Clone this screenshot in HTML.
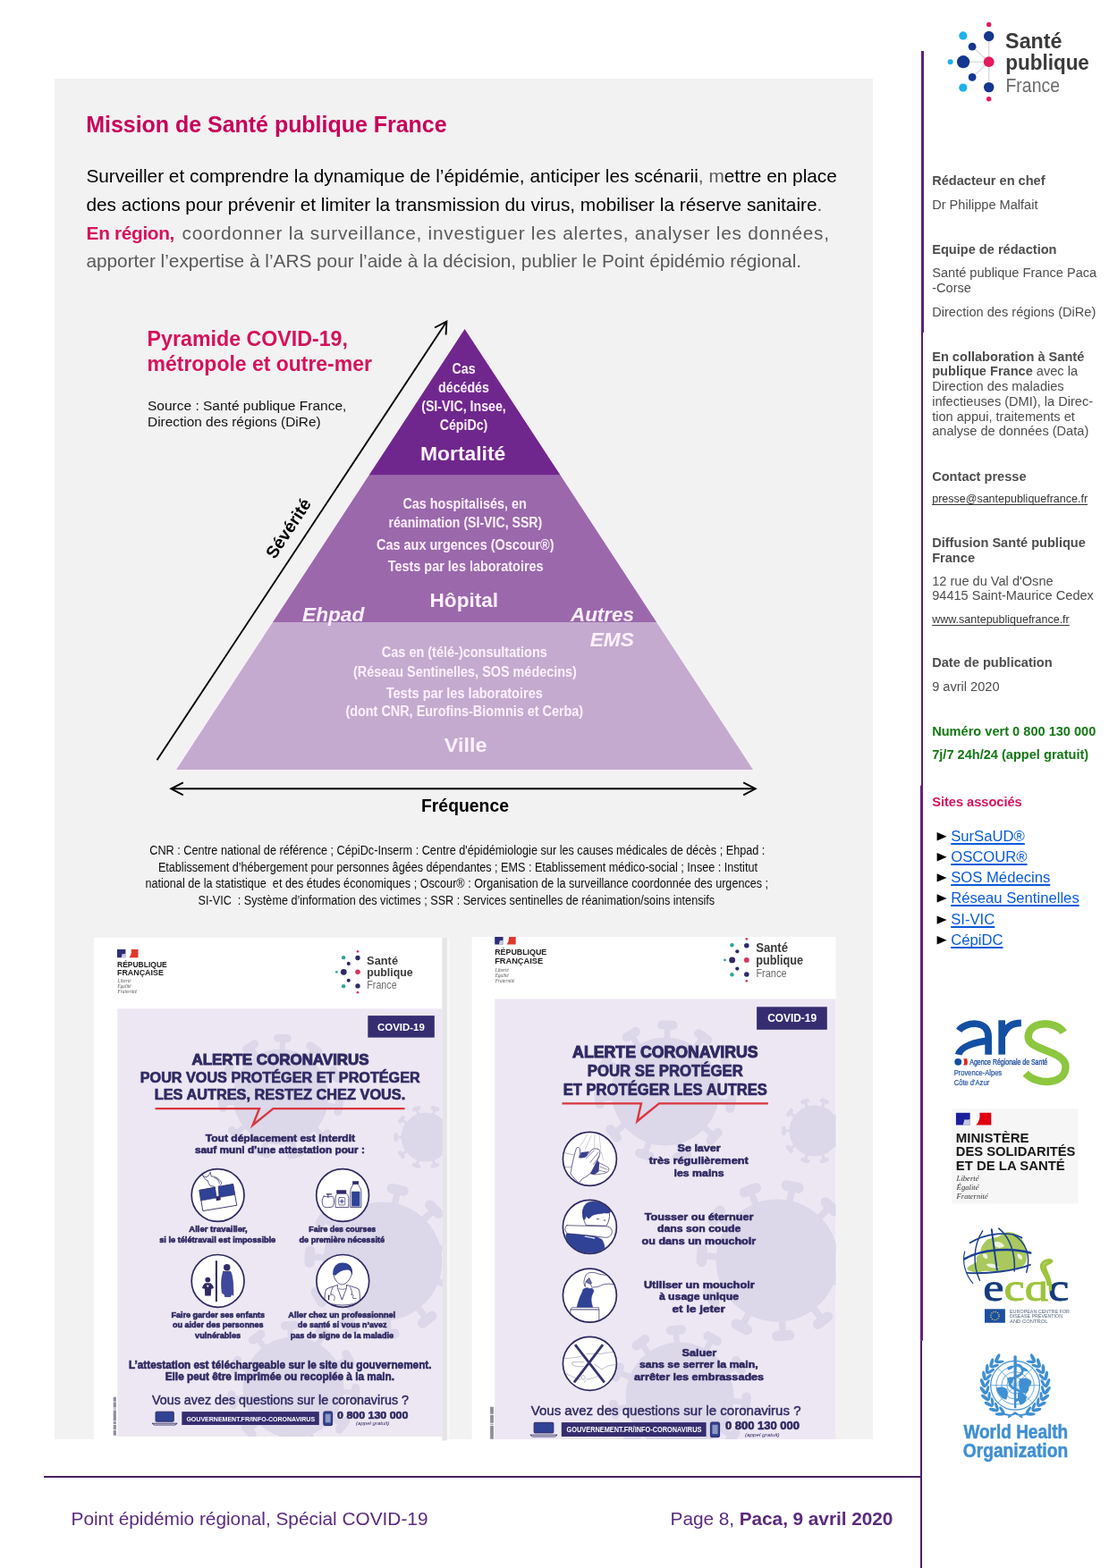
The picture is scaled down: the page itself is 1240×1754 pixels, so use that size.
<!DOCTYPE html>
<html lang="fr">
<head>
<meta charset="utf-8">
<title>Point épidémio régional, Spécial COVID-19 – Paca, 9 avril 2020</title>
<style>
html,body{margin:0;padding:0;background:#fff;}
body{width:1240px;height:1754px;position:relative;overflow:hidden;font-family:"Liberation Sans",sans-serif;}
#page{position:absolute;left:0;top:0;width:1240px;height:1754px;overflow:hidden;will-change:transform;}
#g{position:absolute;left:0;top:0;width:1240px;height:1754px;display:block;}
.t{position:absolute;white-space:pre;line-height:1;margin:0;padding:0;}
.t u{text-decoration-thickness:1px;text-underline-offset:1.5px;}
svg text{font-family:"Liberation Sans",sans-serif;white-space:pre;}
.t u{text-decoration-skip-ink:none;}
svg text.sf{font-family:"Liberation Serif",serif;}
</style>
</head>
<body>
<div id="page">
<svg id="g" width="1240" height="1754" viewBox="0 0 1240 1754">
<rect x="61" y="88" width="915" height="1522" fill="#f2f2f2"/>
<rect x="1030" y="57" width="3" height="315" fill="#5d2380"/>
<rect x="1030" y="372" width="2" height="507" fill="#611a72"/>
<rect x="1029" y="878.7" width="3" height="621" fill="#62227e"/>
<rect x="1029" y="1499.5" width="2" height="254.5" fill="#4a2263"/>
<rect x="49" y="1651" width="981" height="2" fill="#4a2263"/>

<g id="pyramide">
<polygon points="519.6,366.2 844.2,862 194.8,862" fill="#fbf1ff"/>
<polygon points="519.6,368 626.72,531.8 412.42,531.8" fill="#70278d"/>
<polygon points="412.42,531.8 626.72,531.8 734.1,696 304.97,696" fill="#9b68ac"/>
<polygon points="304.97,696 734.1,696 842,861 197,861" fill="#c4aacf"/>
<g fill="none" stroke="#000" stroke-width="1.9" stroke-linecap="butt" stroke-linejoin="miter">
<path d="M175.5 850.3 L499 360.3"/>
<path d="M486 366.5 L499.4 359.6 L498.6 374.5"/>
<path d="M191.5 882.3 H844.5"/>
<path d="M204.8 875.3 L191.3 882.3 L204.8 889.3"/>
<path d="M831.2 875.3 L844.7 882.3 L831.2 889.3"/>
</g>
<text font-size="23" font-weight="bold" fill="#d6115c" transform="translate(164.6 387) scale(1.0089 1)">Pyramide COVID-19,</text>
<text font-size="23" font-weight="bold" fill="#d6115c" transform="translate(164.6 415) scale(0.9985 1)">métropole et outre-mer</text>
<text font-size="15.5" fill="#111" x="165" y="458.7">Source : Santé publique France,</text>
<text font-size="15.5" fill="#111" transform="translate(165 477.2) scale(0.9950 1)">Direction des régions (DiRe)</text>
<text font-size="19.4" font-weight="bold" transform="translate(471 908.2) scale(0.9989 1)">Fréquence</text>
<text font-size="19.4" font-weight="bold" transform="translate(307.2 626.3) rotate(-56.6)">Sévérité</text>
<text font-size="17" font-weight="bold" fill="#fdf1ff" text-anchor="middle" transform="translate(518.5 417.8) scale(0.8350 1)">Cas</text>
<text font-size="17" font-weight="bold" fill="#fdf1ff" text-anchor="middle" transform="translate(518.5 438.8) scale(0.8350 1)">décédés</text>
<text font-size="17" font-weight="bold" fill="#fdf1ff" text-anchor="middle" transform="translate(518.5 459.8) scale(0.8350 1)">(SI-VIC, Insee,</text>
<text font-size="17" font-weight="bold" fill="#fdf1ff" text-anchor="middle" transform="translate(518.5 480.7) scale(0.8350 1)">CépiDc)</text>
<text font-size="22.7" font-weight="bold" fill="#fdf1ff" transform="translate(470 515.3) scale(1.0075 1)">Mortalité</text>
<text font-size="17" font-weight="bold" fill="#fdf1ff" transform="translate(450.4 569.4) scale(0.8467 1)">Cas hospitalisés, en</text>
<text font-size="17" font-weight="bold" fill="#fdf1ff" transform="translate(434.5 590.3) scale(0.8310 1)">réanimation (SI-VIC, SSR)</text>
<text font-size="17" font-weight="bold" fill="#fdf1ff" transform="translate(421 614.6) scale(0.8510 1)">Cas aux urgences (Oscour®)</text>
<text font-size="17" font-weight="bold" fill="#fdf1ff" transform="translate(433.7 638.5) scale(0.8500 1)">Tests par les laboratoires</text>
<text font-size="22.7" font-weight="bold" fill="#fdf1ff" transform="translate(480.6 678.8) scale(0.9932 1)">Hôpital</text>
<text font-size="22.7" font-weight="bold" font-style="italic" fill="#fdf1ff" x="338" y="695.2">Ehpad</text>
<text font-size="22.7" font-weight="bold" font-style="italic" fill="#fdf1ff" transform="translate(638 695.2) scale(0.9875 1)">Autres</text>
<text font-size="22.7" font-weight="bold" font-style="italic" fill="#fdf1ff" transform="translate(659.7 722.5) scale(0.9981 1)">EMS</text>
<text font-size="17" font-weight="bold" fill="#fdf1ff" transform="translate(426.8 735.4) scale(0.8524 1)">Cas en (télé-)consultations</text>
<text font-size="17" font-weight="bold" fill="#fdf1ff" transform="translate(395 756.8) scale(0.8481 1)">(Réseau Sentinelles, SOS médecins)</text>
<text font-size="17" font-weight="bold" fill="#fdf1ff" transform="translate(431.7 781.4) scale(0.8563 1)">Tests par les laboratoires</text>
<text font-size="17" font-weight="bold" fill="#fdf1ff" transform="translate(386.4 801) scale(0.8483 1)">(dont CNR, Eurofins-Biomnis et Cerba)</text>
<text font-size="22.7" font-weight="bold" fill="#fdf1ff" transform="translate(496.7 841.4) scale(1.0329 1)">Ville</text>
<text font-size="15.3" fill="#0d0d0d" transform="translate(167.3 956.3) scale(0.8290 1)">CNR : Centre national de référence ; CépiDc-Inserm : Centre d'épidémiologie sur les causes médicales de décès ; Ehpad :</text>
<text font-size="15.3" fill="#0d0d0d" transform="translate(176.9 974.8) scale(0.8259 1)">Etablissement d’hébergement pour personnes âgées dépendantes ; EMS : Etablissement médico-social ; Insee : Institut</text>
<text font-size="15.3" fill="#0d0d0d" transform="translate(162.5 993.1) scale(0.8252 1)">national de la statistique  et des études économiques ; Oscour® : Organisation de la surveillance coordonnée des urgences ;</text>
<text font-size="15.3" fill="#0d0d0d" transform="translate(221.6 1011.5) scale(0.8263 1)">SI-VIC  : Système d’information des victimes ; SSR : Services sentinelles de réanimation/soins intensifs</text>
</g>
<g id="logo-spf">
<g transform="translate(1105.7 69.2) scale(1.0000)">
<g stroke="#d9d9d9" stroke-width="1.3" fill="none"><path d="M0 0V-28.7M0 0V28.4M0 0H-28.6M0 0L-18.6 -17M0 0L-18.6 17.2"/></g>
<circle cx="0" cy="-41.7" r="2.7" fill="#e6195e"/>
<circle cx="0" cy="-28.7" r="5.7" fill="#14378f"/>
<circle cx="-28.9" cy="-29.3" r="4.6" fill="#1cb1ea"/>
<circle cx="-18.6" cy="-17" r="4.4" fill="#14378f"/>
<circle cx="-28.6" cy="0" r="7.1" fill="#14378f"/>
<circle cx="-43.1" cy="0" r="3" fill="#1cb1ea"/>
<circle cx="0" cy="0" r="5.9" fill="#e6195e"/>
<circle cx="-18.6" cy="17.2" r="4.4" fill="#14378f"/>
<circle cx="-28.9" cy="28.9" r="4.6" fill="#1cb1ea"/>
<circle cx="0" cy="28.4" r="5.7" fill="#14378f"/>
<circle cx="0" cy="41.5" r="2.7" fill="#e6195e"/>
<text font-size="24.6" font-weight="bold" fill="#3a3a3a" transform="translate(18.4 -15.1) scale(0.9479 1)">Santé</text>
<text font-size="24.6" font-weight="bold" fill="#3a3a3a" transform="translate(18.6 8.8) scale(0.9133 1)">publique</text>
<text font-size="22.5" fill="#6b6b6b" transform="translate(18.8 34.2) scale(0.8639 1)">France</text>
</g>
</g>
<g id="ars">
<g transform="translate(1050 1120) scale(0.13710)" fill="none" stroke-linecap="butt">
<g stroke="#134fa2" stroke-width="56">
<path d="M162 240 C215 165 404 150 402 290 V435"/>
<path d="M402 322 C300 332 172 368 158 436"/>
<path d="M512 155 V435"/>
<path d="M520 280 C545 205 600 178 670 178"/>
</g>
<path d="M1015 255 C960 160 730 152 727 292 C725 402 1030 400 1032 532 C1035 682 800 692 705 588" stroke="#8dc63f" stroke-width="62"/>
<circle cx="155" cy="495" r="29" fill="#134fa2" stroke="none"/>
<path d="M198 468 H228 Q238 495 228 522 H198 Q212 495 198 468Z" fill="#e1251b" stroke="none"/>
</g>
<text stroke="#1a4a9c" stroke-width=".35" font-size="9.8" fill="#1a4a9c" transform="translate(1084.3 1191.3) scale(0.7128 1)">Agence Régionale de Santé</text>
<text stroke="#1a4a9c" stroke-width=".2" font-size="9.8" fill="#1a4a9c" transform="translate(1066.7 1203.4) scale(0.7733 1)">Provence-Alpes</text>
<text stroke="#1a4a9c" stroke-width=".2" font-size="9.8" fill="#1a4a9c" transform="translate(1066.7 1214.3) scale(0.7761 1)">Côte d'Azur</text>
</g>
<g id="ministere">
<rect x="1064.4" y="1240.3" width="141.2" height="106.2" fill="#f6f6f6"/>
<rect x="1068.9" y="1244.8" width="39.4" height="13.7" fill="#fff"/>
<rect x="1068.9" y="1244.8" width="15.76" height="13.7" fill="#1b1f9b"/>
<path d="M1084.66 1244.8 q2.36 6.17 -5.52 10.69 l1.97 3.01 h3.55z" fill="#fff" opacity=".0"/>
<path d="M1078.36 1252.34 q3.94 0.69 6.3 -0.69 v6.85 h-7.88z" fill="#fff" opacity=".75"/>
<path d="M1095.3 1244.8 H1108.3 V1258.5 H1091.36 Q1096.48 1253.02 1095.3 1244.8Z" fill="#e1000f"/>
<text font-size="14" font-weight="bold" fill="#161616" transform="translate(1068.8 1277.7) scale(1.0731 1)">MINISTÈRE</text>
<text font-size="14" font-weight="bold" fill="#161616" transform="translate(1068.8 1293.3) scale(1.0553 1)">DES SOLIDARITÉS</text>
<text font-size="14" font-weight="bold" fill="#161616" transform="translate(1068.8 1309.1) scale(1.0655 1)">ET DE LA SANTÉ</text>
<text font-size="8.6" class="sf" font-style="italic" fill="#333" transform="translate(1069.6 1321.2) scale(1.0063 1)">Liberté</text>
<text font-size="8.6" class="sf" font-style="italic" fill="#333" transform="translate(1069.6 1331) scale(1.0065 1)">Égalité</text>
<text font-size="8.6" class="sf" font-style="italic" fill="#333" transform="translate(1069.6 1340.8) scale(0.9958 1)">Fraternité</text>
</g>
<g id="ecdc">
<g transform="translate(1060 1360) scale(0.12903)">
<g fill="#a9c95e">
<path d="M330 215 C360 185 420 200 450 175 C490 125 580 135 620 180 C660 215 690 290 680 360 C690 400 660 440 610 450 C570 480 520 470 470 480 C420 495 360 470 300 482 C250 500 190 492 165 462 C168 432 215 425 250 395 C235 360 260 340 290 330 C270 290 300 250 330 215Z"/>
</g>
<g fill="#fff" opacity=".8"><path d="M395 230 C430 215 475 235 490 262 C455 290 405 280 395 230Z"/><path d="M300 330 C330 320 350 340 340 370 C320 380 300 360 300 330Z"/><path d="M330 420 C370 405 420 425 445 448 C400 458 350 452 330 420Z"/><path d="M600 330 C630 330 650 350 640 380 C615 380 600 360 600 330Z"/></g>
<g fill="none" stroke="#1a3f8f" stroke-linecap="round">
<path d="M190 235 C330 150 520 130 640 190" stroke-width="13"/>
<path d="M140 375 C300 285 560 275 715 322" stroke-width="19"/>
<path d="M165 495 C340 505 570 480 712 425" stroke-width="15"/>
<path d="M300 130 C215 260 215 430 275 560" stroke-width="11"/>
<path d="M378 118 C395 250 410 370 425 470" stroke-width="15"/>
<path d="M440 110 C540 190 585 330 575 480" stroke-width="12"/>
<path d="M560 160 C680 230 720 350 680 490" stroke-width="11"/>
<path d="M145 310 C120 400 150 510 215 585" stroke-width="9"/>
</g>
</g>
<text class="sf" font-size="45" transform="translate(1099.3 1455) scale(1.165 1)" stroke-width=".8"><tspan fill="#153b7c" stroke="#153b7c">e</tspan><tspan fill="#9dc43c" stroke="#9dc43c">cd</tspan><tspan fill="#153b7c" stroke="#153b7c">c</tspan></text>
<rect x="1156" y="1416" width="19" height="17.4" fill="#fff"/>
<path d="M1171.9 1436.8 C1172 1427 1162.6 1421.9 1164.8 1414.8 C1166.8 1409.7 1174.8 1408.8 1175.7 1410.9 C1173.5 1414.2 1168.1 1413.2 1168.1 1417 C1168.6 1423.5 1176.1 1429.7 1174.3 1442.6" fill="none" stroke="#9dc43c" stroke-width="3.35" stroke-linecap="round"/>
<rect x="1101" y="1464.3" width="22.9" height="15.4" fill="#1b4fa0"/>
<circle cx="1112.4" cy="1472" r="4.6" fill="none" stroke="#ffe25a" stroke-width="1.3" stroke-dasharray="1.1 1.3" opacity=".9"/>
<text font-size="5.9" fill="#54657f" transform="translate(1129 1468.6) scale(0.9179 1)">EUROPEAN CENTRE FOR</text>
<text font-size="5.9" fill="#54657f" transform="translate(1129 1474) scale(0.8998 1)">DISEASE PREVENTION</text>
<text font-size="5.9" fill="#54657f" transform="translate(1129 1479.5) scale(0.9897 1)">AND CONTROL</text>
</g>
<g id="who">
<g fill="none" stroke="#3f8fd2">
<circle cx="1135.1" cy="1549.7" r="27.4" stroke-width="1.2"/>
<circle cx="1135.1" cy="1549.7" r="21.2" stroke-width="0.8"/>
<circle cx="1135.1" cy="1549.7" r="15.2" stroke-width="0.8"/>
<circle cx="1135.1" cy="1549.7" r="9.2" stroke-width="0.8"/>
<path d="M1107.7 1549.7H1162.5M1115.7 1530.3L1154.5 1569.1M1154.5 1530.3L1115.7 1569.1" stroke-width=".7"/>
</g>
<g fill="#3f8fd2">
<path d="M1114.1 1552.7 q6 -3 12 1 q2 6 -1 12 q-5 -1 -8 -6 q-3 -3 -3 -7z"/>
<path d="M1140.1 1542.7 q8 -3 13 2 q1 4 -3 7 q1 4 -3 7 q-5 0 -7 -5 q-2 -6 0 -11z"/>
<path d="M1138.1 1557.7 q7 0 10 5 q-1 7 -7 9 q-4 -6 -3 -14z"/>
<path d="M1126.1 1541.7 q4 -3 7 0 q0 5 -3 7 q-4 -2 -4 -7z"/>
<path d="M1126.1 1529.7 q5 -3 8 -2 q-2 4 -7 5z M1142.1 1528.7 q5 1 8 5 q-5 1 -9 -2z"/>
</g>
<path d="M1133.4 1517.2 q1.7 -2 3.4 0 l-.5 58 h-2.4z" fill="#3f8fd2"/>
<path d="M1136.1 1526.7 c9 1 10 10 1 13 c-11 4 -11 11 0 15 c8 3 7 9 -1 12" fill="none" stroke="#3f8fd2" stroke-width="2.8" stroke-linecap="round"/>
<g fill="#3f8fd2">
<ellipse cx="1118.01" cy="1581.84" rx="1.9" ry="5.4" transform="rotate(-90 1118.01 1581.84)"/>
<ellipse cx="1120.36" cy="1577.42" rx="1.6" ry="4.8" transform="rotate(-36 1120.36 1577.42)"/>
<ellipse cx="1111.12" cy="1577.09" rx="1.9" ry="5.4" transform="rotate(-76.8 1111.12 1577.09)"/>
<ellipse cx="1114.42" cy="1573.33" rx="1.6" ry="4.8" transform="rotate(-22.8 1114.42 1573.33)"/>
<ellipse cx="1105.5" cy="1570.89" rx="1.9" ry="5.4" transform="rotate(-63.6 1105.5 1570.89)"/>
<ellipse cx="1109.57" cy="1567.98" rx="1.6" ry="4.8" transform="rotate(-9.6 1109.57 1567.98)"/>
<ellipse cx="1101.45" cy="1563.57" rx="1.9" ry="5.4" transform="rotate(-50.4 1101.45 1563.57)"/>
<ellipse cx="1106.07" cy="1561.67" rx="1.6" ry="4.8" transform="rotate(3.6 1106.07 1561.67)"/>
<ellipse cx="1099.17" cy="1555.52" rx="1.9" ry="5.4" transform="rotate(-37.2 1099.17 1555.52)"/>
<ellipse cx="1104.1" cy="1554.72" rx="1.6" ry="4.8" transform="rotate(16.8 1104.1 1554.72)"/>
<ellipse cx="1098.79" cy="1547.16" rx="1.9" ry="5.4" transform="rotate(-24 1098.79 1547.16)"/>
<ellipse cx="1103.78" cy="1547.51" rx="1.6" ry="4.8" transform="rotate(30 1103.78 1547.51)"/>
<ellipse cx="1100.33" cy="1538.94" rx="1.9" ry="5.4" transform="rotate(-10.8 1100.33 1538.94)"/>
<ellipse cx="1105.1" cy="1540.41" rx="1.6" ry="4.8" transform="rotate(43.2 1105.1 1540.41)"/>
<ellipse cx="1103.7" cy="1531.28" rx="1.9" ry="5.4" transform="rotate(2.4 1103.7 1531.28)"/>
<ellipse cx="1108.02" cy="1533.81" rx="1.6" ry="4.8" transform="rotate(56.4 1108.02 1533.81)"/>
<ellipse cx="1108.74" cy="1524.6" rx="1.9" ry="5.4" transform="rotate(15.6 1108.74 1524.6)"/>
<ellipse cx="1112.36" cy="1528.05" rx="1.6" ry="4.8" transform="rotate(69.6 1112.36 1528.05)"/>
<ellipse cx="1115.17" cy="1519.24" rx="1.9" ry="5.4" transform="rotate(28.8 1115.17 1519.24)"/>
<ellipse cx="1117.91" cy="1523.43" rx="1.6" ry="4.8" transform="rotate(82.8 1117.91 1523.43)"/>
<ellipse cx="1152.19" cy="1581.84" rx="1.9" ry="5.4" transform="rotate(90 1152.19 1581.84)"/>
<ellipse cx="1149.84" cy="1577.42" rx="1.6" ry="4.8" transform="rotate(36 1149.84 1577.42)"/>
<ellipse cx="1159.08" cy="1577.09" rx="1.9" ry="5.4" transform="rotate(76.8 1159.08 1577.09)"/>
<ellipse cx="1155.78" cy="1573.33" rx="1.6" ry="4.8" transform="rotate(22.8 1155.78 1573.33)"/>
<ellipse cx="1164.7" cy="1570.89" rx="1.9" ry="5.4" transform="rotate(63.6 1164.7 1570.89)"/>
<ellipse cx="1160.63" cy="1567.98" rx="1.6" ry="4.8" transform="rotate(9.6 1160.63 1567.98)"/>
<ellipse cx="1168.75" cy="1563.57" rx="1.9" ry="5.4" transform="rotate(50.4 1168.75 1563.57)"/>
<ellipse cx="1164.13" cy="1561.67" rx="1.6" ry="4.8" transform="rotate(-3.6 1164.13 1561.67)"/>
<ellipse cx="1171.03" cy="1555.52" rx="1.9" ry="5.4" transform="rotate(37.2 1171.03 1555.52)"/>
<ellipse cx="1166.1" cy="1554.72" rx="1.6" ry="4.8" transform="rotate(-16.8 1166.1 1554.72)"/>
<ellipse cx="1171.41" cy="1547.16" rx="1.9" ry="5.4" transform="rotate(24 1171.41 1547.16)"/>
<ellipse cx="1166.42" cy="1547.51" rx="1.6" ry="4.8" transform="rotate(-30 1166.42 1547.51)"/>
<ellipse cx="1169.87" cy="1538.94" rx="1.9" ry="5.4" transform="rotate(10.8 1169.87 1538.94)"/>
<ellipse cx="1165.1" cy="1540.41" rx="1.6" ry="4.8" transform="rotate(-43.2 1165.1 1540.41)"/>
<ellipse cx="1166.5" cy="1531.28" rx="1.9" ry="5.4" transform="rotate(-2.4 1166.5 1531.28)"/>
<ellipse cx="1162.18" cy="1533.81" rx="1.6" ry="4.8" transform="rotate(-56.4 1162.18 1533.81)"/>
<ellipse cx="1161.46" cy="1524.6" rx="1.9" ry="5.4" transform="rotate(-15.6 1161.46 1524.6)"/>
<ellipse cx="1157.84" cy="1528.05" rx="1.6" ry="4.8" transform="rotate(-69.6 1157.84 1528.05)"/>
<ellipse cx="1155.03" cy="1519.24" rx="1.9" ry="5.4" transform="rotate(-28.8 1155.03 1519.24)"/>
<ellipse cx="1152.29" cy="1523.43" rx="1.6" ry="4.8" transform="rotate(-82.8 1152.29 1523.43)"/>
</g>
<path d="M1119.1 1580.2 q9 5 16 1 q7 4 16 -1 M1127.1 1585.7 l8 -5.5 l8 5.5" fill="none" stroke="#3f8fd2" stroke-width="2"/>
<text stroke="#3f8fd2" stroke-width=".5" font-size="22.2" font-weight="bold" fill="#3f8fd2" transform="translate(1077.4 1609) scale(0.8557 1)">World Health</text>
<text stroke="#3f8fd2" stroke-width=".5" font-size="22.2" font-weight="bold" fill="#3f8fd2" transform="translate(1076.8 1630.3) scale(0.8653 1)">Organization</text>
</g>
<g id="puces" fill="#000">
<path d="M1047.6 931 L1058.6 935.7 L1047.6 940.4Z"/>
<path d="M1047.6 954 L1058.6 958.7 L1047.6 963.4Z"/>
<path d="M1047.6 977.2 L1058.6 981.9 L1047.6 986.6Z"/>
<path d="M1047.6 1000.2 L1058.6 1004.9 L1047.6 1009.6Z"/>
<path d="M1047.6 1024.4 L1058.6 1029.1 L1047.6 1033.8Z"/>
<path d="M1047.6 1047 L1058.6 1051.7 L1047.6 1056.4Z"/>
</g>
<g id="affiche1">
<rect x="499.5" y="1049" width="2.8" height="562" fill="#f8f8f8"/>
<rect x="494" y="1049" width="5.8" height="562.4" fill="#e5e5e6"/>
<rect x="105" y="1049" width="389.3" height="562" fill="#fff"/>
<rect x="131.3" y="1128.3" width="363.4" height="478.7" fill="#ede7f4"/>
<clipPath id="cp1"><rect x="131.3" y="1128.3" width="363.4" height="478.7"/></clipPath>
<g clip-path="url(#cp1)" fill="#dcd7e9" stroke="#dcd7e9" stroke-linecap="round">
<circle cx="314" cy="1227" r="53"/><path d="M360.98 1235.28L378.72 1238.41" stroke-width="5.83"/><path d="M379.64 1233.19L377.8 1243.63" stroke-width="9.01"/><path d="M349.04 1259.36L362.28 1271.59" stroke-width="5.83"/><path d="M365.87 1267.7L358.68 1275.48" stroke-width="9.01"/><path d="M325.98 1273.17L330.51 1290.61" stroke-width="5.83"/><path d="M335.64 1289.28L325.38 1291.94" stroke-width="9.01"/><path d="M299.12 1272.32L293.49 1289.44" stroke-width="5.83"/><path d="M298.53 1291.09L288.46 1287.78" stroke-width="9.01"/><path d="M276.98 1257.08L262.99 1268.44" stroke-width="5.83"/><path d="M266.33 1272.55L259.65 1264.33" stroke-width="9.01"/><path d="M266.59 1232.29L248.68 1234.28" stroke-width="5.83"/><path d="M249.27 1239.55L248.1 1229.02" stroke-width="9.01"/><path d="M271.26 1205.82L255.12 1197.82" stroke-width="5.83"/><path d="M252.76 1202.56L257.47 1193.07" stroke-width="9.01"/><path d="M289.5 1186.07L280.24 1170.61" stroke-width="5.83"/><path d="M275.69 1173.34L284.79 1167.89" stroke-width="9.01"/><path d="M315.51 1179.32L316.09 1161.31" stroke-width="5.83"/><path d="M310.79 1161.14L321.38 1161.48" stroke-width="9.01"/><path d="M341.05 1187.71L351.27 1172.87" stroke-width="5.83"/><path d="M346.9 1169.86L355.63 1175.87" stroke-width="9.01"/><path d="M358 1208.57L374.62 1201.61" stroke-width="5.83"/><path d="M372.57 1196.72L376.66 1206.5" stroke-width="9.01"/>
<circle cx="476" cy="1272" r="27"/><path d="M500.3 1272L509.48 1272" stroke-width="2.97"/><path d="M509.48 1269.3L509.48 1274.7" stroke-width="4.59"/><path d="M495.66 1286.28L503.09 1291.68" stroke-width="2.97"/><path d="M504.67 1289.49L501.5 1293.86" stroke-width="4.59"/><path d="M483.51 1295.11L486.35 1303.84" stroke-width="2.97"/><path d="M488.91 1303.01L483.78 1304.68" stroke-width="4.59"/><path d="M468.49 1295.11L465.65 1303.84" stroke-width="2.97"/><path d="M468.22 1304.68L463.09 1303.01" stroke-width="4.59"/><path d="M456.34 1286.28L448.91 1291.68" stroke-width="2.97"/><path d="M450.5 1293.86L447.33 1289.49" stroke-width="4.59"/><path d="M451.7 1272L442.52 1272" stroke-width="2.97"/><path d="M442.52 1274.7L442.52 1269.3" stroke-width="4.59"/><path d="M456.34 1257.72L448.91 1252.32" stroke-width="2.97"/><path d="M447.33 1254.51L450.5 1250.14" stroke-width="4.59"/><path d="M468.49 1248.89L465.65 1240.16" stroke-width="2.97"/><path d="M463.09 1240.99L468.22 1239.32" stroke-width="4.59"/><path d="M483.51 1248.89L486.35 1240.16" stroke-width="2.97"/><path d="M483.78 1239.32L488.91 1240.99" stroke-width="4.59"/><path d="M495.66 1257.72L503.09 1252.32" stroke-width="2.97"/><path d="M501.5 1250.14L504.67 1254.51" stroke-width="4.59"/>
<circle cx="428" cy="1411" r="66"/><path d="M483.82 1431.32L504.9 1438.99" stroke-width="7.26"/><path d="M507.16 1432.79L502.65 1445.19" stroke-width="11.22"/><path d="M463.97 1458.27L477.56 1476.13" stroke-width="7.26"/><path d="M482.82 1472.13L472.31 1480.12" stroke-width="11.22"/><path d="M432.71 1470.21L434.49 1492.58" stroke-width="7.26"/><path d="M441.07 1492.06L427.91 1493.11" stroke-width="11.22"/><path d="M399.95 1463.36L389.35 1483.14" stroke-width="7.26"/><path d="M395.17 1486.26L383.53 1480.02" stroke-width="11.22"/><path d="M376.09 1439.88L356.48 1450.79" stroke-width="7.26"/><path d="M359.69 1456.56L353.28 1445.02" stroke-width="11.22"/><path d="M368.72 1407.23L346.32 1405.81" stroke-width="7.26"/><path d="M345.91 1412.4L346.74 1399.22" stroke-width="11.22"/><path d="M380.17 1375.78L362.1 1362.48" stroke-width="7.26"/><path d="M358.18 1367.79L366.01 1357.16" stroke-width="11.22"/><path d="M406.8 1355.51L398.79 1334.55" stroke-width="7.26"/><path d="M392.63 1336.9L404.96 1332.19" stroke-width="11.22"/><path d="M440.17 1352.86L444.76 1330.89" stroke-width="7.26"/><path d="M438.3 1329.54L451.22 1332.25" stroke-width="11.22"/><path d="M469.67 1368.67L485.41 1352.67" stroke-width="7.26"/><path d="M480.7 1348.04L490.11 1357.3" stroke-width="11.22"/><path d="M485.94 1397.91L507.83 1392.97" stroke-width="7.26"/><path d="M506.38 1386.53L509.28 1399.41" stroke-width="11.22"/>
<circle cx="328" cy="1552" r="56"/><path d="M378.21 1556.39L397.18 1558.05" stroke-width="6.16"/><path d="M397.66 1552.47L396.69 1563.63" stroke-width="9.52"/><path d="M367.86 1582.84L382.92 1594.49" stroke-width="6.16"/><path d="M386.35 1590.06L379.5 1598.92" stroke-width="9.52"/><path d="M344.86 1599.5L351.23 1617.44" stroke-width="6.16"/><path d="M356.51 1615.57L345.95 1619.31" stroke-width="9.52"/><path d="M316.51 1601.07L312.16 1619.61" stroke-width="6.16"/><path d="M317.62 1620.89L306.71 1618.33" stroke-width="9.52"/><path d="M291.8 1587.07L278.13 1600.32" stroke-width="6.16"/><path d="M282.02 1604.34L274.23 1596.29" stroke-width="9.52"/><path d="M278.59 1561.93L259.92 1565.68" stroke-width="6.16"/><path d="M261.02 1571.17L258.82 1560.19" stroke-width="9.52"/><path d="M281.06 1533.64L263.33 1526.7" stroke-width="6.16"/><path d="M261.29 1531.92L265.37 1521.49" stroke-width="9.52"/><path d="M298.44 1511.18L287.27 1495.76" stroke-width="6.16"/><path d="M282.74 1499.04L291.81 1492.47" stroke-width="9.52"/><path d="M325.2 1501.68L324.15 1482.67" stroke-width="6.16"/><path d="M318.55 1482.98L329.74 1482.36" stroke-width="9.52"/><path d="M352.85 1508.15L362.24 1491.59" stroke-width="6.16"/><path d="M357.37 1488.83L367.11 1494.35" stroke-width="9.52"/><path d="M372.61 1528.55L389.47 1519.69" stroke-width="6.16"/><path d="M386.86 1514.74L392.07 1524.65" stroke-width="9.52"/>
</g>
<rect x="131" y="1062" width="23.5" height="9.2" fill="#fff"/>
<rect x="131" y="1062" width="9.4" height="9.2" fill="#2d2e78"/>
<path d="M140.4 1062 q1.41 4.14 -3.29 7.18 l1.18 2.02 h2.11z" fill="#fff" opacity=".0"/>
<path d="M136.64 1067.06 q2.35 0.46 3.76 -0.46 v4.6 h-4.7z" fill="#fff" opacity=".75"/>
<path d="M146.75 1062 H154.5 V1071.2 H144.39 Q147.45 1067.52 146.75 1062Z" fill="#e0372c"/>
<text font-size="9.5" font-weight="bold" fill="#1c1c1c" transform="translate(131 1081.6) scale(0.8959 1)">RÉPUBLIQUE</text>
<text font-size="9.5" font-weight="bold" fill="#1c1c1c" transform="translate(131 1090.9) scale(0.9365 1)">FRANÇAISE</text>
<text font-size="5.6" class="sf" font-style="italic" fill="#555" transform="translate(131.6 1099) scale(0.9273 1)">Liberté</text>
<text font-size="5.6" class="sf" font-style="italic" fill="#555" transform="translate(131.6 1104.8) scale(0.9274 1)">Égalité</text>
<text font-size="5.6" class="sf" font-style="italic" fill="#555" transform="translate(131.6 1111.3) scale(0.9341 1)">Fraternité</text>
<g transform="translate(400 1087.3) scale(0.5500)">
<g stroke="#ece9f2" stroke-width="1.3" fill="none"><path d="M0 0V-28.7M0 0V28.4M0 0H-28.6M0 0L-18.6 -17M0 0L-18.6 17.2"/></g>
<circle cx="0" cy="-41.7" r="2.32" fill="#d6335f"/>
<circle cx="0" cy="-28.7" r="4.9" fill="#2d2b68"/>
<circle cx="-28.9" cy="-29.3" r="3.96" fill="#2ea3a0"/>
<circle cx="-18.6" cy="-17" r="3.78" fill="#2d2b68"/>
<circle cx="-28.6" cy="0" r="6.11" fill="#2d2b68"/>
<circle cx="-43.1" cy="0" r="2.58" fill="#2ea3a0"/>
<circle cx="0" cy="0" r="5.07" fill="#d6335f"/>
<circle cx="-18.6" cy="17.2" r="3.78" fill="#2d2b68"/>
<circle cx="-28.9" cy="28.9" r="3.96" fill="#2ea3a0"/>
<circle cx="0" cy="28.4" r="4.9" fill="#2d2b68"/>
<circle cx="0" cy="41.5" r="2.32" fill="#d6335f"/>
<text font-size="24.6" font-weight="bold" fill="#3a3a3a" transform="translate(18.4 -15.1) scale(0.9479 1)">Santé</text>
<text font-size="24.6" font-weight="bold" fill="#3a3a3a" transform="translate(18.6 8.8) scale(0.9133 1)">publique</text>
<text font-size="22.5" fill="#6b6b6b" transform="translate(18.8 34.2) scale(0.8639 1)">France</text>
</g>
<rect x="411.3" y="1136.1" width="74.5" height="24.5" fill="#352d70"/>
<text font-size="11.6" font-weight="bold" fill="#fff" transform="translate(422.1 1152.6) scale(0.9850 1)">COVID-19</text>
<text stroke="#2f2a62" stroke-width="1.0" font-size="17.2" font-weight="bold" fill="#2f2a62" transform="translate(214.4 1191.1) scale(0.9850 1)">ALERTE CORONAVIRUS</text>
<text stroke="#2f2a62" stroke-width="0.7" font-size="17.2" font-weight="bold" fill="#2f2a62" transform="translate(156.8 1210.7) scale(0.9417 1)">POUR VOUS PROTÉGER ET PROTÉGER</text>
<text stroke="#2f2a62" stroke-width="0.7" font-size="17.2" font-weight="bold" fill="#2f2a62" transform="translate(172.7 1229.7) scale(0.9495 1)">LES AUTRES, RESTEZ CHEZ VOUS.</text>
<path d="M173.6 1240.1 H290 L282.6 1258.6 L305.4 1240.1 H452.5" fill="none" stroke="#d9373e" stroke-width="2.4" stroke-linejoin="miter"/>
<text stroke="#2f2a62" stroke-width="0.6" font-size="11.6" font-weight="bold" fill="#2f2a62" transform="translate(229.7 1276.9) scale(1.0415 1)">Tout déplacement est interdit</text>
<text stroke="#2f2a62" stroke-width="0.6" font-size="11.6" font-weight="bold" fill="#2f2a62" transform="translate(218 1290.4) scale(1.0166 1)">sauf muni d’une attestation pour :</text>
<g transform="translate(243.6 1337)">
<clipPath id="c244_1337"><circle r="28.8"/></clipPath>
<circle r="29.4" fill="#fff"/>
<g clip-path="url(#c244_1337)"><g transform="scale(0.05647) translate(-630 -620)" stroke-linejoin="round" stroke-linecap="round"><path d="M270 520 L930 400 L1005 820 L340 930Z" fill="#fff" stroke="#2f2a62" stroke-width="16"/><path d="M270 520 L930 400 L965 610 L298 728Z" fill="#2f4296" stroke="#2f2a62" stroke-width="10"/><path d="M330 225 C380 290 440 270 480 165 L500 250 C560 235 650 290 690 350 C710 380 705 410 640 445 L655 640 L600 650 L570 450 C520 440 490 440 480 430 C450 400 440 360 430 330 C390 320 350 280 330 225Z" fill="#fff" stroke="#2f2a62" stroke-width="14"/><path d="M590 655 L675 640 L688 715 L600 730Z" fill="#2f2a62"/><path d="M560 270 C620 290 650 330 660 380" fill="none" stroke="#7d7fa6" stroke-width="22"/></g></g>
<circle r="29.4" fill="none" stroke="#2d2960" stroke-width="1.7"/>
</g>
<g transform="translate(383.1 1337)">
<clipPath id="c383_1337"><circle r="28.8"/></clipPath>
<circle r="29.4" fill="#fff"/>
<g clip-path="url(#c383_1337)"><g transform="scale(0.05647) translate(-622 -620)" stroke-linejoin="round" stroke-linecap="round"><path d="M250 640 C330 655 350 655 420 640 C465 690 460 800 420 850 C360 865 300 865 250 850 C205 800 205 690 250 640Z" fill="#fff" stroke="#2f2a62" stroke-width="14"/><path d="M305 600 H400 M335 600 V660" fill="none" stroke="#2f2a62" stroke-width="18"/><path d="M520 590 H700 C730 620 740 640 740 680 V860 H480 V680 C480 640 490 620 520 590Z" fill="#fff" stroke="#2f2a62" stroke-width="14"/><path d="M500 520 H695 V585 H500Z" fill="#2f2a62"/><rect x="545" y="665" width="125" height="150" rx="20" fill="#fff" stroke="#2f2a62" stroke-width="12"/><path d="M607 705 V775 M572 740 H642" stroke="#4a4f9a" stroke-width="22" fill="none"/><path d="M830 400 H930 C940 450 990 480 990 540 V860 H775 V540 C775 480 820 450 830 400Z" fill="#fff" stroke="#2f2a62" stroke-width="14"/><path d="M800 545 H965 V840 H800Z" fill="#2f4296"/><path d="M818 340 H940 V400 H818Z" fill="#2f2a62"/></g></g>
<circle r="29.4" fill="none" stroke="#2d2960" stroke-width="1.7"/>
</g>
<g transform="translate(243.6 1432.9)">
<clipPath id="c244_1433"><circle r="28.8"/></clipPath>
<circle r="29.4" fill="#fff"/>
<g clip-path="url(#c244_1433)"><g transform="scale(0.05647) translate(-630 -618)" stroke-linejoin="round" stroke-linecap="round"><path d="M600 215 V1025" stroke="#2f2a62" stroke-width="36" fill="none" stroke-linecap="butt"/><circle cx="430" cy="595" r="52" fill="#2f2a62"/><path d="M380 660 H480 C520 690 540 720 548 760 L500 775 L490 910 H375 L370 775 L318 760 C330 720 345 690 380 660Z" fill="#2f2a62"/><path d="M405 705 H455 L430 750Z" fill="#fff"/><circle cx="810" cy="350" r="66" fill="#2f2d68"/><path d="M740 430 H880 C925 520 940 700 935 905 L900 880 L880 930 H770 L760 880 L715 860 C690 700 700 520 740 430Z" fill="#3f4a9c" stroke="#2f2d68" stroke-width="12"/></g></g>
<circle r="29.4" fill="none" stroke="#2d2960" stroke-width="1.7"/>
</g>
<g transform="translate(383.3 1432.9)">
<clipPath id="c383_1433"><circle r="28.8"/></clipPath>
<circle r="29.4" fill="#fff"/>
<g clip-path="url(#c383_1433)"><g transform="scale(0.05647) translate(-625 -618)" stroke-linejoin="round" stroke-linecap="round"><path d="M262 1010 C270 900 275 820 300 780 C360 745 450 725 520 700 L610 990 L700 700 C790 725 880 745 940 780 C960 830 965 900 968 1000 C860 1130 380 1130 262 1010Z" fill="#fff" stroke="#2f2a62" stroke-width="14"/><path d="M520 700 V760 L610 990 L700 760 V700" fill="#fff" stroke="#2f2a62" stroke-width="13"/><path d="M545 770 C590 790 630 790 680 770" fill="none" stroke="#2f2a62" stroke-width="11"/><path d="M440 480 C450 580 520 680 610 692 C700 680 780 580 800 480 C790 380 720 330 620 330 C520 330 450 380 440 480Z" fill="#fff" stroke="#2f2a62" stroke-width="14"/><path d="M432 480 C420 340 510 255 620 258 C740 255 830 340 808 480 C795 420 760 400 700 398 C620 400 540 440 480 510 C460 510 445 500 432 480Z" fill="#2f4296"/><path d="M808 480 C815 400 780 330 740 300" fill="none" stroke="#2f2a62" stroke-width="14"/><path d="M430 740 C400 800 380 850 390 890 M350 990 C330 930 370 880 410 885 C460 890 480 950 450 1000" fill="none" stroke="#2f2a62" stroke-width="13"/><path d="M345 905 V985" stroke="#2f2a62" stroke-width="22" fill="none"/><path d="M770 740 C800 800 810 840 805 880 M790 890 C830 880 850 900 820 930 L830 965 H890" fill="none" stroke="#2f2a62" stroke-width="13"/></g></g>
<circle r="29.4" fill="none" stroke="#2d2960" stroke-width="1.7"/>
</g>
<text stroke="#2f2a62" stroke-width="0.6" font-size="9.4" font-weight="bold" fill="#2f2a62" transform="translate(211.3 1377.5) scale(1.0124 1)">Aller travailler,</text>
<text stroke="#2f2a62" stroke-width="0.6" font-size="9.4" font-weight="bold" fill="#2f2a62" transform="translate(178.2 1389.5) scale(0.9819 1)">si le télétravail est impossible</text>
<text stroke="#2f2a62" stroke-width="0.6" font-size="9.4" font-weight="bold" fill="#2f2a62" transform="translate(345.3 1377.5) scale(0.9382 1)">Faire des courses</text>
<text stroke="#2f2a62" stroke-width="0.6" font-size="9.4" font-weight="bold" fill="#2f2a62" transform="translate(334.5 1389.5) scale(0.9680 1)">de première nécessité</text>
<text stroke="#2f2a62" stroke-width="0.6" font-size="9.4" font-weight="bold" fill="#2f2a62" transform="translate(191.4 1474.1) scale(0.9644 1)">Faire garder ses enfants</text>
<text stroke="#2f2a62" stroke-width="0.6" font-size="9.4" font-weight="bold" fill="#2f2a62" transform="translate(192.9 1485.4) scale(0.9647 1)">ou aider des personnes</text>
<text stroke="#2f2a62" stroke-width="0.6" font-size="9.4" font-weight="bold" fill="#2f2a62" transform="translate(218.1 1496.8) scale(0.9781 1)">vulnérables</text>
<text stroke="#2f2a62" stroke-width="0.6" font-size="9.4" font-weight="bold" fill="#2f2a62" transform="translate(322.3 1474.1) scale(0.9784 1)">Aller chez un professionnel</text>
<text stroke="#2f2a62" stroke-width="0.6" font-size="9.4" font-weight="bold" fill="#2f2a62" transform="translate(333 1485.4) scale(0.9532 1)">de santé si vous n’avez</text>
<text stroke="#2f2a62" stroke-width="0.6" font-size="9.4" font-weight="bold" fill="#2f2a62" transform="translate(324.7 1496.8) scale(0.9748 1)">pas de signe de la maladie</text>
<text stroke="#2f2a62" stroke-width="0.6" font-size="12" font-weight="bold" fill="#2f2a62" transform="translate(144 1530.6) scale(0.9808 1)">L’attestation est téléchargeable sur le site du gouvernement.</text>
<text stroke="#2f2a62" stroke-width="0.6" font-size="12" font-weight="bold" fill="#2f2a62" transform="translate(184.7 1544.2) scale(0.9848 1)">Elle peut être imprimée ou recopiée à la main.</text>
<text stroke="#2f2a62" stroke-width="0.45" font-size="14.6" fill="#2f2a62" transform="translate(170.1 1570.6) scale(0.9806 1)">Vous avez des questions sur le coronavirus ?</text>
<rect x="174.03" y="1579.2" width="20.23" height="10.95" rx="1" fill="#2f4296" stroke="#2f2a62" stroke-width="1"/><path d="M170.1 1592.22 H198.2 L195.95 1594 H172.35Z" fill="#fff" stroke="#2f2a62" stroke-width=".9"/>
<rect x="203.3" y="1579.1" width="153.5" height="14.9" fill="#352d70"/>
<text font-size="8" font-weight="bold" fill="#fff" transform="translate(208.4 1590) scale(0.8788 1)">GOUVERNEMENT.FR/INFO-CORONAVIRUS</text>
<rect x="361.8" y="1579" width="9.8" height="15.6" rx="1.6" fill="#2f4296" stroke="#2f2a62" stroke-width="1"/><rect x="363.76" y="1581.65" width="5.88" height="9.67" fill="#8f97c8"/>
<text stroke="#2f2a62" stroke-width="0.6" font-size="11.8" font-weight="bold" fill="#2f2a62" transform="translate(377.1 1587.2) scale(1.0509 1)">0 800 130 000</text>
<text font-size="6" font-style="italic" fill="#2f2a62" transform="translate(398.1 1593.6) scale(1.0076 1)">(appel gratuit)</text>
<path d="M128.3 1562.8 V1606.8" stroke="#7c7a90" stroke-width="3.2" stroke-dasharray="5 .8 6 1 1 .8 12 .8 3 .8" opacity=".85"/>
</g>
<g id="affiche2">
<rect x="527.7" y="1048" width="406.8" height="562" fill="#fff"/>
<rect x="553.2" y="1117.4" width="381.3" height="492.6" fill="#ede7f4"/>
<clipPath id="cp2"><rect x="553.2" y="1117.4" width="381.3" height="492.6"/></clipPath>
<g clip-path="url(#cp2)" fill="#dcd7e9" stroke="#dcd7e9" stroke-linecap="round">
<circle cx="744" cy="1221" r="60"/><path d="M797.18 1230.38L817.27 1233.92" stroke-width="6.6"/><path d="M818.31 1228.01L816.23 1239.83" stroke-width="10.2"/><path d="M783.67 1257.64L798.65 1271.48" stroke-width="6.6"/><path d="M802.72 1267.07L794.58 1275.89" stroke-width="10.2"/><path d="M757.56 1273.27L762.69 1293.02" stroke-width="6.6"/><path d="M768.49 1291.51L756.88 1294.52" stroke-width="10.2"/><path d="M727.15 1272.3L720.78 1291.69" stroke-width="6.6"/><path d="M726.49 1293.56L715.08 1289.81" stroke-width="10.2"/><path d="M702.09 1255.05L686.25 1267.91" stroke-width="6.6"/><path d="M690.04 1272.57L682.47 1263.26" stroke-width="10.2"/><path d="M690.33 1226.99L670.06 1229.25" stroke-width="6.6"/><path d="M670.72 1235.21L669.39 1223.28" stroke-width="10.2"/><path d="M695.62 1197.02L677.34 1187.96" stroke-width="6.6"/><path d="M674.67 1193.34L680 1182.59" stroke-width="10.2"/><path d="M716.26 1174.67L705.78 1157.17" stroke-width="6.6"/><path d="M700.63 1160.25L710.93 1154.08" stroke-width="10.2"/><path d="M745.71 1167.03L746.36 1146.64" stroke-width="6.6"/><path d="M740.36 1146.45L752.36 1146.83" stroke-width="10.2"/><path d="M774.62 1176.52L786.19 1159.72" stroke-width="6.6"/><path d="M781.25 1156.32L791.13 1163.12" stroke-width="10.2"/><path d="M793.81 1200.14L812.62 1192.26" stroke-width="6.6"/><path d="M810.31 1186.72L814.94 1197.79" stroke-width="10.2"/>
<circle cx="911" cy="1265" r="28"/><path d="M936.2 1265L945.72 1265" stroke-width="3.08"/><path d="M945.72 1262.2L945.72 1267.8" stroke-width="4.76"/><path d="M931.39 1279.81L939.09 1285.41" stroke-width="3.08"/><path d="M940.73 1283.14L937.44 1287.67" stroke-width="4.76"/><path d="M918.79 1288.97L921.73 1298.02" stroke-width="3.08"/><path d="M924.39 1297.16L919.07 1298.89" stroke-width="4.76"/><path d="M903.21 1288.97L900.27 1298.02" stroke-width="3.08"/><path d="M902.93 1298.89L897.61 1297.16" stroke-width="4.76"/><path d="M890.61 1279.81L882.91 1285.41" stroke-width="3.08"/><path d="M884.56 1287.67L881.27 1283.14" stroke-width="4.76"/><path d="M885.8 1265L876.28 1265" stroke-width="3.08"/><path d="M876.28 1267.8L876.28 1262.2" stroke-width="4.76"/><path d="M890.61 1250.19L882.91 1244.59" stroke-width="3.08"/><path d="M881.27 1246.86L884.56 1242.33" stroke-width="4.76"/><path d="M903.21 1241.03L900.27 1231.98" stroke-width="3.08"/><path d="M897.61 1232.84L902.93 1231.11" stroke-width="4.76"/><path d="M918.79 1241.03L921.73 1231.98" stroke-width="3.08"/><path d="M919.07 1231.11L924.39 1232.84" stroke-width="4.76"/><path d="M931.39 1250.19L939.09 1244.59" stroke-width="3.08"/><path d="M937.44 1242.33L940.73 1246.86" stroke-width="4.76"/>
<circle cx="869" cy="1410" r="68"/><path d="M926.51 1430.93L948.23 1438.84" stroke-width="7.48"/><path d="M950.56 1432.45L945.91 1445.23" stroke-width="11.56"/><path d="M906.06 1458.7L920.07 1477.1" stroke-width="7.48"/><path d="M925.48 1472.98L914.65 1481.22" stroke-width="11.56"/><path d="M873.85 1471.01L875.68 1494.05" stroke-width="7.48"/><path d="M882.46 1493.52L868.9 1494.59" stroke-width="11.56"/><path d="M840.1 1463.94L829.18 1484.32" stroke-width="7.48"/><path d="M835.17 1487.54L823.18 1481.11" stroke-width="11.56"/><path d="M815.52 1439.76L795.32 1451" stroke-width="7.48"/><path d="M798.62 1456.94L792.01 1445.05" stroke-width="11.56"/><path d="M807.92 1406.12L784.85 1404.65" stroke-width="7.48"/><path d="M784.42 1411.44L785.28 1397.87" stroke-width="11.56"/><path d="M819.72 1373.71L801.1 1360.01" stroke-width="7.48"/><path d="M797.07 1365.48L805.13 1354.53" stroke-width="11.56"/><path d="M847.16 1352.83L838.91 1331.23" stroke-width="7.48"/><path d="M832.56 1333.66L845.26 1328.81" stroke-width="11.56"/><path d="M881.53 1350.1L886.27 1327.47" stroke-width="7.48"/><path d="M879.61 1326.07L892.93 1328.86" stroke-width="11.56"/><path d="M911.93 1366.38L928.15 1349.91" stroke-width="7.48"/><path d="M923.3 1345.14L932.99 1354.68" stroke-width="11.56"/><path d="M928.7 1396.52L951.25 1391.42" stroke-width="7.48"/><path d="M949.75 1384.79L952.75 1398.06" stroke-width="11.56"/>
<circle cx="760" cy="1562" r="60"/><path d="M813.79 1566.71L834.12 1568.48" stroke-width="6.6"/><path d="M834.64 1562.51L833.59 1574.46" stroke-width="10.2"/><path d="M802.71 1595.04L818.85 1607.53" stroke-width="6.6"/><path d="M822.52 1602.78L815.17 1612.27" stroke-width="10.2"/><path d="M778.07 1612.89L784.89 1632.11" stroke-width="6.6"/><path d="M790.55 1630.11L779.24 1634.12" stroke-width="10.2"/><path d="M747.69 1614.58L743.03 1634.44" stroke-width="6.6"/><path d="M748.88 1635.81L737.19 1633.07" stroke-width="10.2"/><path d="M721.22 1599.57L706.56 1613.77" stroke-width="6.6"/><path d="M710.74 1618.08L702.39 1609.46" stroke-width="10.2"/><path d="M707.06 1572.64L687.06 1576.66" stroke-width="6.6"/><path d="M688.24 1582.54L685.88 1570.78" stroke-width="10.2"/><path d="M709.71 1542.33L690.71 1534.9" stroke-width="6.6"/><path d="M688.53 1540.48L692.9 1529.31" stroke-width="10.2"/><path d="M728.33 1518.26L716.36 1501.74" stroke-width="6.6"/><path d="M711.5 1505.26L721.22 1498.22" stroke-width="10.2"/><path d="M757 1508.08L755.87 1487.71" stroke-width="6.6"/><path d="M749.88 1488.05L761.86 1487.38" stroke-width="10.2"/><path d="M786.63 1515.02L796.69 1497.27" stroke-width="6.6"/><path d="M791.47 1494.32L801.91 1500.23" stroke-width="10.2"/><path d="M807.8 1536.88L825.86 1527.38" stroke-width="6.6"/><path d="M823.07 1522.07L828.65 1532.7" stroke-width="10.2"/>
</g>
<clipPath id="cp2b"><rect x="527.7" y="1048" width="406.8" height="562"/></clipPath>
<g clip-path="url(#cp2b)">
<rect x="553.2" y="1046.5" width="23.5" height="10" fill="#fff"/>
<rect x="553.2" y="1046.5" width="9.4" height="10" fill="#2d2e78"/>
<path d="M562.6 1046.5 q1.41 4.5 -3.29 7.8 l1.18 2.2 h2.11z" fill="#fff" opacity=".0"/>
<path d="M558.84 1052 q2.35 0.5 3.76 -0.5 v5 h-4.7z" fill="#fff" opacity=".75"/>
<path d="M568.95 1046.5 H576.7 V1056.5 H566.6 Q569.65 1052.5 568.95 1046.5Z" fill="#e0372c"/>
<text font-size="9.5" font-weight="bold" fill="#1c1c1c" transform="translate(553.2 1068.4) scale(0.9344 1)">RÉPUBLIQUE</text>
<text font-size="9.5" font-weight="bold" fill="#1c1c1c" transform="translate(553.2 1078.1) scale(0.9744 1)">FRANÇAISE</text>
<text font-size="5.6" class="sf" font-style="italic" fill="#555" transform="translate(553.8 1086.8) scale(0.9273 1)">Liberté</text>
<text font-size="5.6" class="sf" font-style="italic" fill="#555" transform="translate(553.8 1093.4) scale(0.9274 1)">Égalité</text>
<text font-size="5.6" class="sf" font-style="italic" fill="#555" transform="translate(553.8 1099) scale(0.9341 1)">Fraternité</text>
</g>
<g transform="translate(834.8 1073.9) scale(0.5650)">
<g stroke="#ece9f2" stroke-width="1.3" fill="none"><path d="M0 0V-28.7M0 0V28.4M0 0H-28.6M0 0L-18.6 -17M0 0L-18.6 17.2"/></g>
<circle cx="0" cy="-41.7" r="2.32" fill="#d6335f"/>
<circle cx="0" cy="-28.7" r="4.9" fill="#2d2b68"/>
<circle cx="-28.9" cy="-29.3" r="3.96" fill="#2ea3a0"/>
<circle cx="-18.6" cy="-17" r="3.78" fill="#2d2b68"/>
<circle cx="-28.6" cy="0" r="6.11" fill="#2d2b68"/>
<circle cx="-43.1" cy="0" r="2.58" fill="#2ea3a0"/>
<circle cx="0" cy="0" r="5.07" fill="#d6335f"/>
<circle cx="-18.6" cy="17.2" r="3.78" fill="#2d2b68"/>
<circle cx="-28.9" cy="28.9" r="3.96" fill="#2ea3a0"/>
<circle cx="0" cy="28.4" r="4.9" fill="#2d2b68"/>
<circle cx="0" cy="41.5" r="2.32" fill="#d6335f"/>
<text font-size="24.6" font-weight="bold" fill="#3a3a3a" transform="translate(18.4 -15.1) scale(0.9479 1)">Santé</text>
<text font-size="24.6" font-weight="bold" fill="#3a3a3a" transform="translate(18.6 8.8) scale(0.9133 1)">publique</text>
<text font-size="22.5" fill="#6b6b6b" transform="translate(18.8 34.2) scale(0.8639 1)">France</text>
</g>
<rect x="846.1" y="1126.3" width="78.7" height="25.5" fill="#352d70"/>
<text font-size="12" font-weight="bold" fill="#fff" transform="translate(858.2 1142.9) scale(0.9919 1)">COVID-19</text>
<text stroke="#2f2a62" stroke-width="1.0" font-size="18" font-weight="bold" fill="#2f2a62" transform="translate(640.1 1183.3) scale(0.9854 1)">ALERTE CORONAVIRUS</text>
<text stroke="#2f2a62" stroke-width="0.7" font-size="18" font-weight="bold" fill="#2f2a62" transform="translate(656.8 1204.2) scale(0.9314 1)">POUR SE PROTÉGER</text>
<text stroke="#2f2a62" stroke-width="0.7" font-size="18" font-weight="bold" fill="#2f2a62" transform="translate(629.7 1224.7) scale(0.9233 1)">ET PROTÉGER LES AUTRES</text>
<path d="M628.5 1234.4 H716.9 L712.4 1254.3 L736.9 1234.4 H858.9" fill="none" stroke="#d9373e" stroke-width="2.4" stroke-linejoin="miter"/>
<g transform="translate(659.4 1296.4)">
<clipPath id="c659_1296"><circle r="29.4"/></clipPath>
<circle r="30" fill="#fff"/>
<g clip-path="url(#c659_1296)"><g transform="scale(0.05647) translate(-610 -610)" stroke-linejoin="round" stroke-linecap="round"><path d="M560 130 L420 360 M640 150 L520 420 M710 130 L700 390 M800 150 L830 430 M840 480 L880 640" fill="none" stroke="#9c9cb8" stroke-width="9"/><path d="M120 490 C190 510 240 520 290 530 M130 770 H240" fill="none" stroke="#6c6c90" stroke-width="10"/><path d="M800 690 C870 720 940 750 985 790 C1000 830 980 870 940 880 C900 900 800 915 700 920 L620 900Z" fill="#fff" stroke="#2f2a62" stroke-width="11"/><path d="M820 770 L960 820 M800 840 L940 870" fill="none" stroke="#2f2a62" stroke-width="9"/><path d="M390 1085 C330 1030 270 960 230 900 C240 860 245 820 250 780 C265 700 285 620 300 560 C315 500 330 450 345 400 C355 375 395 375 410 400 C420 430 420 460 420 480 L400 580 C450 590 500 580 540 560 C580 520 620 470 650 430 C670 405 720 395 790 420 C820 440 820 480 800 540 C790 580 775 610 760 640 C740 680 720 720 700 760 C680 800 660 840 640 880 C590 930 530 970 470 1000Z" fill="#fff" stroke="#2f2a62" stroke-width="13"/><path d="M400 580 L440 480 L600 460 L540 560 C500 585 450 600 400 580Z" fill="#3b3f8c"/><path d="M760 640 C785 660 800 680 800 700 L790 860 L700 920 L620 900 C650 860 680 800 700 760Z" fill="#3b3f8c"/><path d="M540 600 L700 440 M620 680 L780 480 M680 720 L800 560" fill="none" stroke="#2f2a62" stroke-width="10"/></g></g>
<circle r="30" fill="none" stroke="#2d2960" stroke-width="1.7"/>
</g>
<g transform="translate(659.4 1372.4)">
<clipPath id="c659_1372"><circle r="29.4"/></clipPath>
<circle r="30" fill="#fff"/>
<g clip-path="url(#c659_1372)"><g transform="scale(0.05647) translate(-610 -610)" stroke-linejoin="round" stroke-linecap="round"><path d="M480 280 C470 400 480 470 540 580 L940 590 C990 500 1010 420 1000 340 C900 200 600 180 480 280Z" fill="#fff" stroke="#2f2a62" stroke-width="14"/><path d="M470 330 C470 200 540 110 660 110 C800 100 960 170 1030 300 C1010 340 960 345 900 335 C850 350 800 350 760 355 C700 365 650 385 620 420 C600 450 580 450 565 420 C550 395 535 400 525 440 C510 470 490 480 480 440 C470 400 470 370 470 330Z" fill="#2f4296" stroke="#2f2a62" stroke-width="9"/><path d="M750 455 H790 M890 480 H920" stroke="#2f2a62" stroke-width="14" fill="none"/><path d="M150 750 C300 720 700 760 850 860 C890 920 900 980 905 1030 C800 1180 350 1180 160 900 C130 850 130 790 150 750Z" fill="#2f4296" stroke="#2f2a62" stroke-width="9"/><path d="M160 580 C400 590 700 590 940 600 C1020 610 1060 660 1050 720 C1040 790 980 830 900 820 C700 790 400 760 200 745 C140 735 120 690 125 650 C128 610 140 590 160 580Z" fill="#fff" stroke="#2f2a62" stroke-width="13"/><path d="M520 800 C580 810 640 820 700 832" stroke="#e8e8f6" stroke-width="26" fill="none"/></g></g>
<circle r="30" fill="none" stroke="#2d2960" stroke-width="1.7"/>
</g>
<g transform="translate(659.4 1449.1)">
<clipPath id="c659_1449"><circle r="29.4"/></clipPath>
<circle r="30" fill="#fff"/>
<g clip-path="url(#c659_1449)"><g transform="scale(0.05647) translate(-610 -622)" stroke-linejoin="round" stroke-linecap="round"><path d="M1110 410 C1000 380 900 390 820 430 C780 455 720 460 680 460 C660 470 640 450 640 430 C620 380 610 320 600 280 C570 300 550 330 540 350 C520 390 515 420 520 450 C490 400 480 330 540 210 C580 160 680 150 780 195 C860 215 940 215 1000 225 C1060 260 1100 330 1110 410Z" fill="#fff" stroke="#2f2a62" stroke-width="13"/><path d="M540 350 C560 300 590 290 600 280 C620 320 640 350 650 380 C620 400 570 400 540 350Z" fill="#6d70a8" stroke="#2f2a62" stroke-width="9"/><path d="M480 500 C510 480 535 475 560 470 C600 490 630 485 650 480 C680 500 690 520 690 540 C660 600 640 650 640 700 C640 770 660 830 680 885 H350 C360 820 380 760 400 700 C420 640 440 600 460 560Z" fill="#2f4296" stroke="#3a3d85" stroke-width="9"/><path d="M262 860 H790 L795 905 H235Z" fill="#fff" stroke="#2f2a62" stroke-width="10"/><path d="M235 903 H795 V1125 C600 1180 400 1150 235 1010Z" fill="#fff" stroke="#2f2a62" stroke-width="13"/></g></g>
<circle r="30" fill="none" stroke="#2d2960" stroke-width="1.7"/>
</g>
<g transform="translate(659.4 1525.3)">
<clipPath id="c659_1525"><circle r="29.4"/></clipPath>
<circle r="30" fill="#fff"/>
<g clip-path="url(#c659_1525)"><g transform="scale(0.05647) translate(-610 -625)" stroke-linejoin="round" stroke-linecap="round"><g fill="none" stroke="#8a8aa6" stroke-width="10"><path d="M90 520 C220 525 330 510 480 470 M270 600 C340 585 420 590 500 600 M270 600 C255 620 258 640 275 655 C350 690 420 690 490 680"/><path d="M1110 395 C1010 400 920 415 830 432 C740 430 640 430 555 432 M1110 650 C1060 655 1020 660 980 670 C930 690 890 715 845 742 C800 700 760 670 700 640"/><path d="M150 830 C200 850 250 880 300 900 C340 920 380 930 420 940 M440 900 a40 40 0 1 0 80 0 a40 40 0 1 0 -80 0 M550 940 C620 930 700 905 760 880 M520 960 L510 995"/></g><path d="M320 250 L900 1000 M870 250 L300 1000" stroke="#37356f" stroke-width="50" fill="none" stroke-linecap="butt"/></g></g>
<circle r="30" fill="none" stroke="#2d2960" stroke-width="1.7"/>
</g>
<text stroke="#2f2a62" stroke-width="0.6" font-size="11.8" font-weight="bold" fill="#2f2a62" transform="translate(757.5 1288.2) scale(1.0669 1)">Se laver</text>
<text stroke="#2f2a62" stroke-width="0.6" font-size="11.8" font-weight="bold" fill="#2f2a62" transform="translate(725.7 1302.2) scale(1.0790 1)">très régulièrement</text>
<text stroke="#2f2a62" stroke-width="0.6" font-size="11.8" font-weight="bold" fill="#2f2a62" transform="translate(753.6 1315.7) scale(1.0430 1)">les mains</text>
<text stroke="#2f2a62" stroke-width="0.6" font-size="11.8" font-weight="bold" fill="#2f2a62" transform="translate(720.7 1364.7) scale(1.0767 1)">Tousser ou éternuer</text>
<text stroke="#2f2a62" stroke-width="0.6" font-size="11.8" font-weight="bold" fill="#2f2a62" transform="translate(735 1378.2) scale(1.0387 1)">dans son coude</text>
<text stroke="#2f2a62" stroke-width="0.6" font-size="11.8" font-weight="bold" fill="#2f2a62" transform="translate(717.6 1392.1) scale(1.0645 1)">ou dans un mouchoir</text>
<text stroke="#2f2a62" stroke-width="0.6" font-size="11.8" font-weight="bold" fill="#2f2a62" transform="translate(719.9 1440.5) scale(1.0799 1)">Utiliser un mouchoir</text>
<text stroke="#2f2a62" stroke-width="0.6" font-size="11.8" font-weight="bold" fill="#2f2a62" transform="translate(736.9 1454.1) scale(1.0373 1)">à usage unique</text>
<text stroke="#2f2a62" stroke-width="0.6" font-size="11.8" font-weight="bold" fill="#2f2a62" transform="translate(751.6 1467.6) scale(1.1445 1)">et le jeter</text>
<text stroke="#2f2a62" stroke-width="0.6" font-size="11.8" font-weight="bold" fill="#2f2a62" transform="translate(762.5 1516.8) scale(1.0728 1)">Saluer</text>
<text stroke="#2f2a62" stroke-width="0.6" font-size="11.8" font-weight="bold" fill="#2f2a62" transform="translate(714.9 1530.4) scale(1.0435 1)">sans se serrer la main,</text>
<text stroke="#2f2a62" stroke-width="0.6" font-size="11.8" font-weight="bold" fill="#2f2a62" transform="translate(709.1 1543.9) scale(1.0685 1)">arrêter les embrassades</text>
<text stroke="#2f2a62" stroke-width="0.45" font-size="15.4" fill="#2f2a62" transform="translate(593.7 1582.6) scale(0.9772 1)">Vous avez des questions sur le coronavirus ?</text>
<rect x="597.13" y="1591.3" width="21.74" height="11.62" rx="1" fill="#2f4296" stroke="#2f2a62" stroke-width="1"/><path d="M592.9 1605.12 H623.1 L620.68 1607 H595.32Z" fill="#fff" stroke="#2f2a62" stroke-width=".9"/>
<rect x="627.8" y="1591.1" width="161.8" height="15.9" fill="#352d70"/>
<text font-size="8.4" font-weight="bold" fill="#fff" transform="translate(633.6 1602.4) scale(0.8777 1)">GOUVERNEMENT.FR/INFO-CORONAVIRUS</text>
<rect x="794.4" y="1591" width="10.2" height="16.6" rx="1.6" fill="#2f4296" stroke="#2f2a62" stroke-width="1"/><rect x="796.44" y="1593.82" width="6.12" height="10.29" fill="#8f97c8"/>
<text stroke="#2f2a62" stroke-width="0.6" font-size="12.4" font-weight="bold" fill="#2f2a62" transform="translate(810.9 1598.9) scale(1.0492 1)">0 800 130 000</text>
<text font-size="6.2" font-style="italic" fill="#2f2a62" transform="translate(833 1606.6) scale(1.0117 1)">(appel gratuit)</text>
<path d="M550 1573.7 V1610" stroke="#7c7a90" stroke-width="3.8" stroke-dasharray="8 1 9 1 1 1 15 1" opacity=".85"/>
</g>
</svg>
<div class="t" id="t0" style="left:96.20px;top:127.00px;font-size:25px;color:#c7005a;font-weight:bold;letter-spacing:-0.027px;">Mission de Santé publique France</div>
<div class="t" id="t1" style="left:96.40px;top:187.00px;font-size:20.83px;color:#000;letter-spacing:-0.012px;">Surveiller et comprendre la dynamique de l’épidémie, anticiper les scénarii<span style="color:#595959">, m</span>ettre en place</div>
<div class="t" id="t2" style="left:96.40px;top:219.00px;font-size:20.83px;color:#000;letter-spacing:-0.014px;">des actions pour prévenir et limiter la transmission du virus, mobiliser la réserve sanitaire<span style="color:#595959">.</span></div>
<div class="t" id="t3" style="left:96.60px;top:251.00px;font-size:20.83px;color:#d6115c;font-weight:bold;letter-spacing:-0.338px;">En région,</div>
<div class="t" id="t4" style="left:203.50px;top:251.00px;font-size:20.83px;color:#595959;letter-spacing:0.728px;">coordonner la surveillance, investiguer les alertes, analyser les données,</div>
<div class="t" id="t5" style="left:96.40px;top:282.00px;font-size:20.83px;color:#595959;letter-spacing:-0.017px;">apporter l’expertise à l’ARS pour l’aide à la décision, publier le Point épidémio régional.</div>
<div class="t" id="t6" style="left:1042.20px;top:195.00px;font-size:14.58px;color:#4d4d4d;font-weight:bold;">Rédacteur en chef</div>
<div class="t" id="t7" style="left:1042.20px;top:222.00px;font-size:14.58px;color:#4d4d4d;">Dr Philippe Malfait</div>
<div class="t" id="t8" style="left:1042.20px;top:272.00px;font-size:14.58px;color:#4d4d4d;font-weight:bold;">Equipe de rédaction</div>
<div class="t" id="t9" style="left:1042.20px;top:298.00px;font-size:14.58px;color:#4d4d4d;">Santé publique France Paca</div>
<div class="t" id="t10" style="left:1042.20px;top:315.00px;font-size:14.58px;color:#4d4d4d;">-Corse</div>
<div class="t" id="t11" style="left:1042.20px;top:342.00px;font-size:14.58px;color:#4d4d4d;">Direction des régions (DiRe)</div>
<div class="t" id="t12" style="left:1042.20px;top:392.00px;font-size:14.58px;color:#4d4d4d;"><b>En collaboration à Santé</b></div>
<div class="t" id="t13" style="left:1042.20px;top:408.00px;font-size:14.58px;color:#4d4d4d;"><b>publique France</b> avec la</div>
<div class="t" id="t14" style="left:1042.20px;top:425.00px;font-size:14.58px;color:#4d4d4d;">Direction des maladies</div>
<div class="t" id="t15" style="left:1042.20px;top:442.00px;font-size:14.58px;color:#4d4d4d;">infectieuses (DMI), la Direc-</div>
<div class="t" id="t16" style="left:1042.20px;top:459.00px;font-size:14.58px;color:#4d4d4d;">tion appui, traitements et</div>
<div class="t" id="t17" style="left:1042.20px;top:475.00px;font-size:14.58px;color:#4d4d4d;">analyse de données (Data)</div>
<div class="t" id="t18" style="left:1042.20px;top:526.00px;font-size:14.58px;color:#4d4d4d;font-weight:bold;">Contact presse</div>
<div class="t" id="t19" style="left:1042.20px;top:552.00px;font-size:12.5px;color:#333;"><u>presse@santepubliquefrance.fr</u></div>
<div class="t" id="t20" style="left:1042.20px;top:600.00px;font-size:14.58px;color:#4d4d4d;font-weight:bold;">Diffusion Santé publique</div>
<div class="t" id="t21" style="left:1042.20px;top:617.00px;font-size:14.58px;color:#4d4d4d;font-weight:bold;">France</div>
<div class="t" id="t22" style="left:1042.20px;top:643.00px;font-size:14.58px;color:#4d4d4d;">12 rue du Val d'Osne</div>
<div class="t" id="t23" style="left:1042.20px;top:659.00px;font-size:14.58px;color:#4d4d4d;">94415 Saint-Maurice Cedex</div>
<div class="t" id="t24" style="left:1042.20px;top:687.00px;font-size:12.5px;color:#333;"><u>www.santepubliquefrance.fr</u></div>
<div class="t" id="t25" style="left:1042.20px;top:734.00px;font-size:14.58px;color:#4d4d4d;font-weight:bold;">Date de publication</div>
<div class="t" id="t26" style="left:1042.20px;top:761.00px;font-size:14.58px;color:#4d4d4d;">9 avril 2020</div>
<div class="t" id="t27" style="left:1042.20px;top:811.00px;font-size:14.58px;color:#147814;font-weight:bold;">Numéro vert 0 800 130 000</div>
<div class="t" id="t28" style="left:1042.20px;top:837.00px;font-size:14.58px;color:#147814;font-weight:bold;">7j/7 24h/24 (appel gratuit)</div>
<div class="t" id="t29" style="left:1042.20px;top:890.00px;font-size:14.58px;color:#d6115c;font-weight:bold;">Sites associés</div>
<div class="t" id="t30" style="left:1063.20px;top:928.00px;font-size:16.67px;color:#0a5bd8;"><u style="text-decoration-thickness:1.5px;text-underline-offset:2px">SurSaUD®</u></div>
<div class="t" id="t31" style="left:1063.20px;top:951.00px;font-size:16.67px;color:#0a5bd8;"><u style="text-decoration-thickness:1.5px;text-underline-offset:2px">OSCOUR®</u></div>
<div class="t" id="t32" style="left:1063.20px;top:974.00px;font-size:16.67px;color:#0a5bd8;"><u style="text-decoration-thickness:1.5px;text-underline-offset:2px">SOS Médecins</u></div>
<div class="t" id="t33" style="left:1063.20px;top:997.00px;font-size:16.67px;color:#0a5bd8;"><u style="text-decoration-thickness:1.5px;text-underline-offset:2px">Réseau Sentinelles</u></div>
<div class="t" id="t34" style="left:1063.20px;top:1021.00px;font-size:16.67px;color:#0a5bd8;"><u style="text-decoration-thickness:1.5px;text-underline-offset:2px">SI-VIC</u></div>
<div class="t" id="t35" style="left:1063.20px;top:1044.00px;font-size:16.67px;color:#0a5bd8;"><u style="text-decoration-thickness:1.5px;text-underline-offset:2px">CépiDC</u></div>
<div class="t" id="t36" style="left:79.50px;top:1689.00px;font-size:20.83px;color:#5b2a7e;letter-spacing:-0.011px;">Point épidémio régional, Spécial COVID-19</div>
<div class="t" id="t37" style="left:749.60px;top:1689.00px;font-size:20.83px;color:#5b2a7e;letter-spacing:-0.058px;">Page 8, <b>Paca, 9 avril 2020</b></div>
</div>
</body>
</html>
